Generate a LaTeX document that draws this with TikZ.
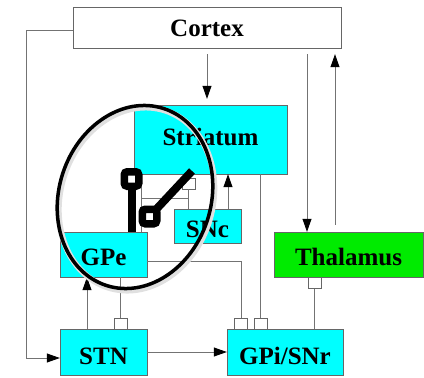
\documentclass[tikz,border=0pt]{standalone}
\usepackage{fontspec}
\setmainfont{Liberation Serif}
\usepackage{tikz}
\usetikzlibrary{arrows.meta,calc}
\definecolor{nucleus}{RGB}{0,255,255}
\definecolor{relay}{RGB}{0,235,0}

\begin{document}
\begin{tikzpicture}[
  x=1pt, y=-1pt,
  >={Triangle[length=13pt,width=9pt,color=black]},
  box/.style={draw=black!60, fill=nucleus, inner sep=0pt, align=center,
              font=\fontsize{25}{30}\selectfont\bfseries,
              text height=22pt, text depth=0pt},
  inh/.style={draw=black!60, fill=white, inner sep=0pt,
              minimum width=13pt, minimum height=11pt},
  wire/.style={draw=black!55, line width=0.8pt},
  knob/.style={draw=black, fill=white, line width=7.5pt, rounded corners=3pt,
               minimum size=14.5pt, inner sep=0pt},
  bar/.style={draw=black, line width=8pt}
]
  \useasboundingbox (0,0) rectangle (424,378);

  \node[box, fill=white, minimum width=268pt, minimum height=41pt, text height=18pt] (cortex) at (207,27.5) {Cortex};
  \node[box, minimum width=153pt, minimum height=69pt, text height=11pt] (striatum) at (210.5,139.5) {Striatum};
  \node[box, minimum width=67pt, minimum height=34pt] (snc) at (207.5,226) {SNc};
  \node[box, minimum width=87pt, minimum height=45pt] (gpe) at (103.5,254.5) {GPe};
  \node[box, fill=relay, minimum width=149pt, minimum height=45pt] (thalamus) at (348.5,254.5) {Thalamus};
  \node[box, minimum width=87pt, minimum height=46pt, text height=24pt] (stn) at (103.5,352) {STN};
  \node[box, minimum width=116pt, minimum height=46pt, text height=24pt] (gpi) at (285,352) {GPi/SNr};

  \node[inh] (sqstr) at (188.5,183.5) {};
  \node[inh] (sqg1) at (241,323.5) {};
  \node[inh] (sqg2) at (260.5,323.5) {};
  \node[inh] (sqth) at (314.5,283) {};
  \node[inh] (sqstn) at (120.5,323.5) {};
  \coordinate (jn) at (141,198);

  \draw[wire, ->, shorten <=6pt, shorten >=6pt] (cortex.south) -- (cortex.south |- striatum.north);
  \draw[wire, ->, shorten <=6pt] ([xshift=-41.5pt]thalamus.north |- cortex.south) -- ([xshift=-41.5pt]thalamus.north);
  \draw[wire, ->, shorten <=7pt, shorten >=6pt] ([xshift=-13.5pt]thalamus.north) -- ([xshift=-13.5pt]thalamus.north |- cortex.south);
  \draw[wire, ->] ([yshift=-3pt]cortex.west) -- ++(-46,0) |- ([yshift=-6pt]stn.west);
  \draw[wire, ->] ([xshift=20.5pt]snc.north) -- ([xshift=20.5pt]snc.north |- striatum.south);
  \draw[wire] (sqstr.south) -- (sqstr.south |- snc.north);
  \draw[wire] (jn |- striatum.south) -- (jn |- gpe.north);
  \draw[wire] (jn) -- (jn -| sqstr.south);
  \draw[wire] ([yshift=-6.5pt]gpe.east) -| (sqg1.north);
  \draw[wire] (sqg2.north |- striatum.south) -- (sqg2.north);
  \draw[wire] (sqth.south) -- (sqth.south |- gpi.north);
  \draw[wire, ->] (stn.east) -- (stn.east -| gpi.west);
  \draw[wire, ->] ([xshift=-16.5pt]stn.north) -- ([xshift=-16.5pt]stn.north |- gpe.south);
  \draw[wire] (sqstn.north |- gpe.south) -- (sqstn.north);

  \draw[black!12, line width=6pt, rotate around={-18:(136.5,199)}] (136.5,199) ellipse (76pt and 93pt);
  \draw[line width=3.5pt, rotate around={-18:(135,197)}] (135,197) ellipse (76pt and 93pt);

  \coordinate (sw1) at (131.5,179);
  \coordinate (sw2) at (149.5,216.5);
  \coordinate (tip) at (192,171);
  \draw[bar] (sw1) -- (sw1 |- gpe.north);
  \draw[bar] (sw2) -- (tip);
  \node[knob] at (sw1) {};
  \node[knob] at (sw2) {};
\end{tikzpicture}
\end{document}
